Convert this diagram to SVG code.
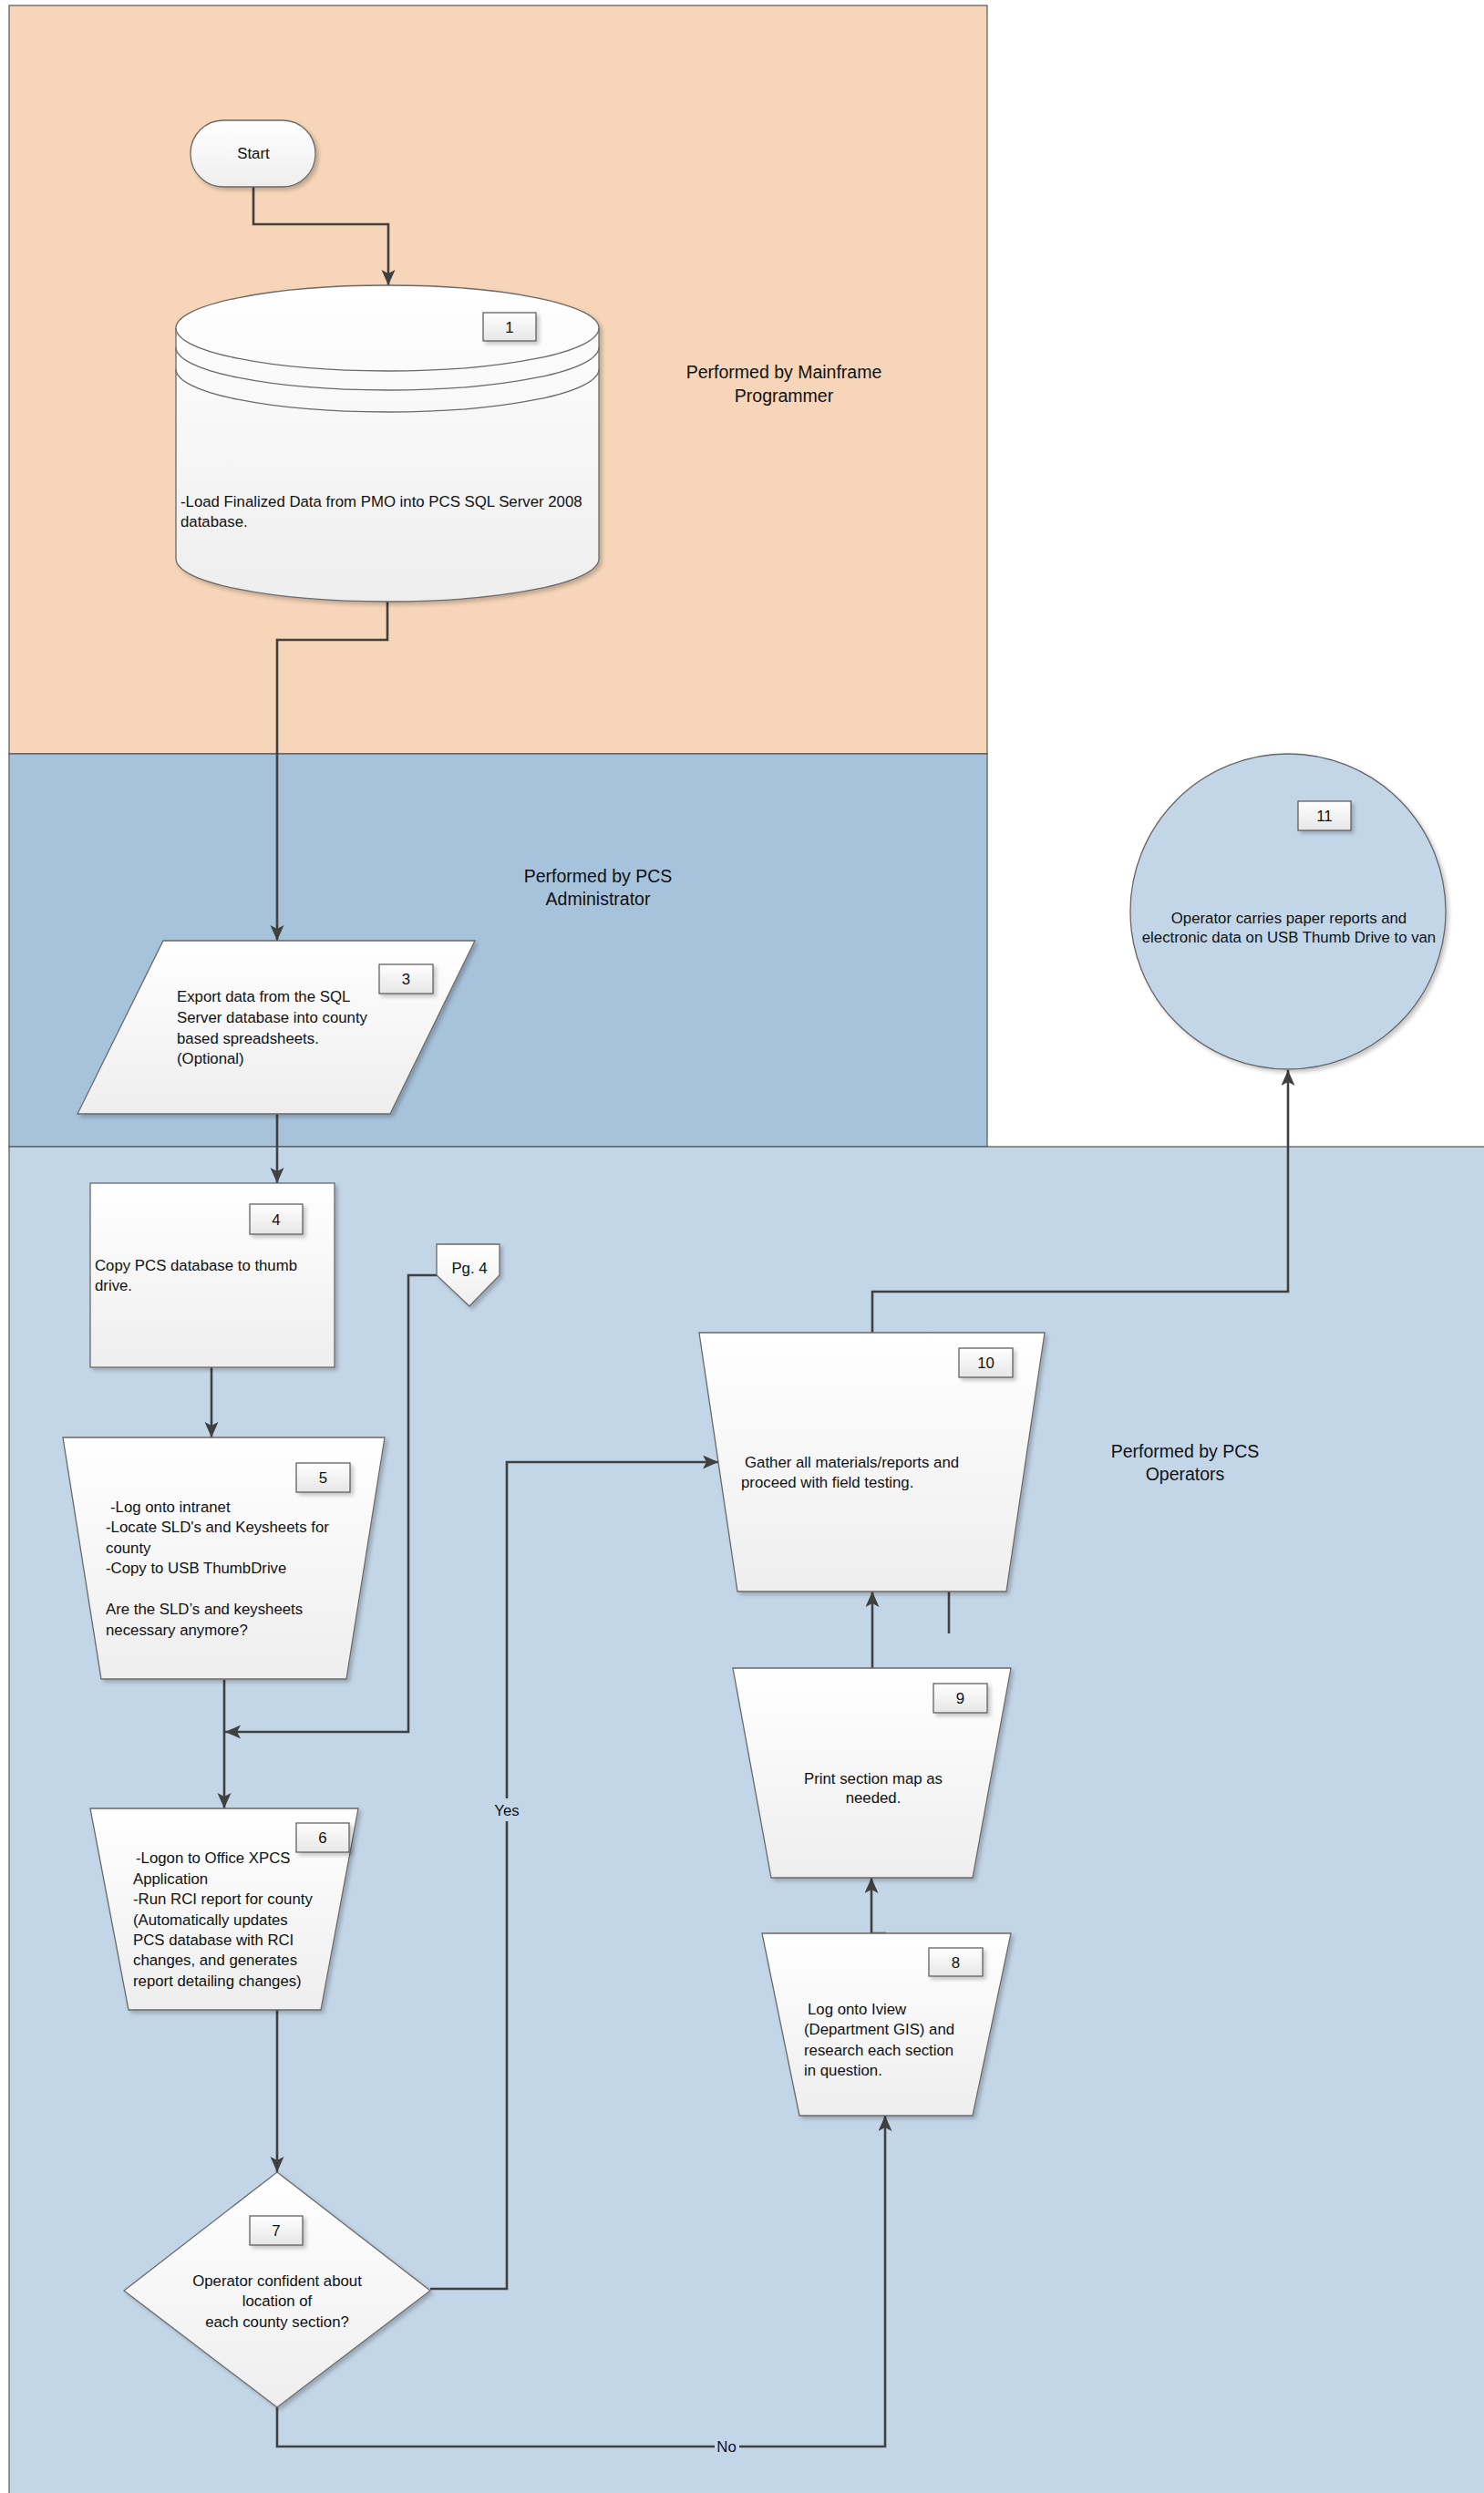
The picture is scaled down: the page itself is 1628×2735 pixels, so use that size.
<svg xmlns="http://www.w3.org/2000/svg" width="1628" height="2735" viewBox="0 0 1628 2735">
<defs>
<style>
text{font-family:"Liberation Sans",Arial,sans-serif;font-size:16.8px;fill:#111}
.lane{font-size:19.5px}
.shape{fill:url(#g);stroke:#6a6a6a;stroke-width:1.3}
.num{fill:url(#gn);stroke:#555;stroke-width:1.2}
.conn{fill:none;stroke:#404040;stroke-width:2.6}
.arr{marker-end:url(#ah)}
</style>
<linearGradient id="g" x1="0" y1="0" x2="0" y2="1">
<stop offset="0" stop-color="#ffffff"/><stop offset="1" stop-color="#eeeeee"/>
</linearGradient>
<linearGradient id="gn" x1="0" y1="0" x2="0" y2="1">
<stop offset="0" stop-color="#ffffff"/><stop offset="1" stop-color="#e6e6e6"/>
</linearGradient>
<filter id="sh" x="-10%" y="-10%" width="130%" height="130%">
<feDropShadow dx="3" dy="3" stdDeviation="2" flood-color="#000" flood-opacity="0.22"/>
</filter>
<marker id="ah" markerUnits="userSpaceOnUse" markerWidth="18" markerHeight="16" refX="17" refY="7.5" orient="auto">
<path d="M0,0 L17,7.5 L0,15 L4,7.5 z" fill="#404040"/>
</marker>
</defs>

<g id="lanes">
<rect x="10" y="6" width="1073" height="821" fill="#f6d5b8" stroke="#555" stroke-width="1.2"/>
<rect x="10" y="827" width="1073" height="431" fill="#a7c3dc" stroke="#555" stroke-width="1.2"/>
<rect x="10" y="1258" width="1630" height="1490" fill="#c3d6e8" stroke="#555" stroke-width="1.2"/>
<text class="lane" x="860" y="415" text-anchor="middle">Performed by Mainframe</text>
<text class="lane" x="860" y="441" text-anchor="middle">Programmer</text>
<text class="lane" x="656" y="968" text-anchor="middle">Performed by PCS</text>
<text class="lane" x="656" y="993" text-anchor="middle">Administrator</text>
<text class="lane" x="1300" y="1599" text-anchor="middle">Performed by PCS</text>
<text class="lane" x="1300" y="1624" text-anchor="middle">Operators</text>
</g>

<g id="connectors">
<path class="conn arr" d="M278,205 V246 H426 V313"/>
<path class="conn arr" d="M425,660 V702 H304 V1032"/>
<path class="conn arr" d="M304,1222 V1298"/>
<path class="conn arr" d="M232,1500 V1577"/>
<path class="conn arr" d="M246,1843 V1984"/>
<path class="conn arr" d="M479,1399 H448 V1900 H247"/>
<path class="conn arr" d="M304,2205 V2383"/>
<path class="conn arr" d="M472,2511 H556 V1604 H788"/>
<path class="conn arr" d="M304,2641 V2684 H971 V2321"/>
<path class="conn arr" d="M972,2121 H956 V2060"/>
<path class="conn arr" d="M957,1830 V1746"/>
<path class="conn arr" d="M1041,1792 V1708"/>
<path class="conn arr" d="M957,1462 V1417 H1413 V1174"/>
<rect x="539" y="1973" width="34" height="25" fill="#c3d6e8"/>
<text x="556" y="1992" text-anchor="middle">Yes</text>
<rect x="784" y="2672" width="27" height="24" fill="#c3d6e8"/>
<text x="797" y="2690" text-anchor="middle">No</text>
</g>

<g id="start">
<rect class="shape" x="209" y="132" width="137" height="73" rx="36" filter="url(#sh)"/>
<text x="278" y="174" text-anchor="middle">Start</text>
</g>

<g id="node1">
<path class="shape" filter="url(#sh)" d="M193,360 L193,613 A232,47 0 0 0 657,613 L657,360 A232,47 0 0 0 193,360 Z"/>
<path class="shape" style="fill:none" d="M193,360 A232,47 0 0 0 657,360 M193,381 A232,47 0 0 0 657,381 M193,405 A232,47 0 0 0 657,405"/>
<rect class="num" x="530" y="343" width="58" height="31" filter="url(#sh)"/>
<text x="559" y="365" text-anchor="middle">1</text>
<text x="198" y="556">-Load Finalized Data from PMO into PCS SQL Server 2008</text>
<text x="198" y="578">database.</text>
</g>

<g id="node3">
<polygon class="shape" filter="url(#sh)" points="179,1032 521,1032 428,1222 85,1222"/>
<rect class="num" x="416" y="1058" width="59" height="32" filter="url(#sh)"/>
<text x="445.5" y="1080" text-anchor="middle">3</text>
<text x="194" y="1099">Export data from the SQL</text>
<text x="194" y="1122">Server database into county</text>
<text x="194" y="1145">based spreadsheets.</text>
<text x="194" y="1167">(Optional)</text>
</g>

<g id="node4">
<rect class="shape" filter="url(#sh)" x="99" y="1298" width="268" height="202"/>
<rect class="num" x="274" y="1321" width="58" height="33" filter="url(#sh)"/>
<text x="303" y="1344" text-anchor="middle">4</text>
<text x="104" y="1394">Copy PCS database to thumb</text>
<text x="104" y="1416">drive.</text>
</g>

<g id="pg4">
<polygon class="shape" filter="url(#sh)" points="479,1365 548,1365 548,1399 515,1433 479,1399"/>
<text x="515" y="1397" text-anchor="middle">Pg. 4</text>
</g>

<g id="node5">
<polygon class="shape" filter="url(#sh)" points="69,1577 422,1577 380,1842 111,1842"/>
<rect class="num" x="325" y="1605" width="59" height="32" filter="url(#sh)"/>
<text x="354.5" y="1627" text-anchor="middle">5</text>
<text x="121" y="1659">-Log onto intranet</text>
<text x="116" y="1681">-Locate SLD's and Keysheets for</text>
<text x="116" y="1704">county</text>
<text x="116" y="1726">-Copy to USB ThumbDrive</text>
<text x="116" y="1771">Are the SLD’s and keysheets</text>
<text x="116" y="1794">necessary anymore?</text>
</g>

<g id="node6">
<polygon class="shape" filter="url(#sh)" points="99,1984 393,1984 352,2205 141,2205"/>
<rect class="num" x="325" y="2000" width="58" height="32" filter="url(#sh)"/>
<text x="354" y="2022" text-anchor="middle">6</text>
<text x="149" y="2044">-Logon to Office XPCS</text>
<text x="146" y="2067">Application</text>
<text x="146" y="2089">-Run RCI report for county</text>
<text x="146" y="2112">(Automatically updates</text>
<text x="146" y="2134">PCS database with RCI</text>
<text x="146" y="2156">changes, and generates</text>
<text x="146" y="2179">report detailing changes)</text>
</g>

<g id="node7">
<polygon class="shape" filter="url(#sh)" points="304,2383 472,2513 304,2641 136,2513"/>
<rect class="num" x="274" y="2431" width="58" height="32" filter="url(#sh)"/>
<text x="303" y="2453" text-anchor="middle">7</text>
<text x="304" y="2508" text-anchor="middle">Operator confident about</text>
<text x="304" y="2530" text-anchor="middle">location of</text>
<text x="304" y="2553" text-anchor="middle">each county section?</text>
</g>

<g id="node8">
<polygon class="shape" filter="url(#sh)" points="836,2121 1109,2121 1067,2321 877,2321"/>
<rect class="num" x="1019" y="2137" width="59" height="31" filter="url(#sh)"/>
<text x="1048.5" y="2159" text-anchor="middle">8</text>
<text x="886" y="2210">Log onto Iview</text>
<text x="882" y="2232">(Department GIS) and</text>
<text x="882" y="2255">research each section</text>
<text x="882" y="2277">in question.</text>
</g>

<g id="node9">
<polygon class="shape" filter="url(#sh)" points="804,1830 1109,1830 1067,2060 846,2060"/>
<rect class="num" x="1024" y="1847" width="59" height="32" filter="url(#sh)"/>
<text x="1053.5" y="1869" text-anchor="middle">9</text>
<text x="958" y="1957" text-anchor="middle">Print section map as</text>
<text x="958" y="1978" text-anchor="middle">needed.</text>
</g>

<g id="node10">
<polygon class="shape" filter="url(#sh)" points="767,1462 1146,1462 1104,1746 809,1746"/>
<rect class="num" x="1052" y="1479" width="59" height="32" filter="url(#sh)"/>
<text x="1081.5" y="1501" text-anchor="middle">10</text>
<text x="817" y="1610">Gather all materials/reports and</text>
<text x="813" y="1632">proceed with field testing.</text>
</g>

<g id="node11">
<circle cx="1413" cy="1000" r="173" fill="#c3d6e8" stroke="#666" stroke-width="1.3" filter="url(#sh)"/>
<rect class="num" x="1424" y="879" width="58" height="32" filter="url(#sh)"/>
<text x="1453" y="901" text-anchor="middle">11</text>
<text x="1414" y="1013" text-anchor="middle">Operator carries paper reports and</text>
<text x="1414" y="1034" text-anchor="middle">electronic data on USB Thumb Drive to van</text>
</g>
</svg>
